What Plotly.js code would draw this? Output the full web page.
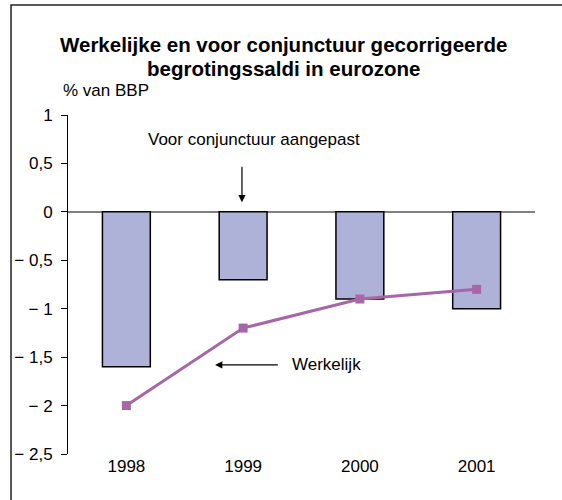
<!DOCTYPE html>
<html>
<head>
<meta charset="utf-8">
<script src="https://cdn.plot.ly/plotly-3.0.1.min.js"></script>
<style>
  body { margin: 0; background: #fff; }
  #plot { width: 562px; height: 500px; }
</style>
</head>
<body>
<div id="plot"></div>
<script>
// data
const years = ['1998', '1999', '2000', '2001']
const adjusted = [-1.6, -0.7, -0.9, -1.0]     // voor conjunctuur aangepast
const actual = [-2.0, -1.2, -0.9, -0.8]       // werkelijk
const yTicks = [1, 0.5, 0, -0.5, -1, -1.5, -2, -2.5]
const yTickText = ['1', '0,5', '0', '\u2212 0,5', '\u2212 1', '\u2212 1,5', '\u2212 2', '\u2212 2,5']
const titleLines = ['Werkelijke en voor conjunctuur gecorrigeerde', 'begrotingssaldi in eurozone']

const font = 'Liberation Sans, Arial, sans-serif'

const traces = [
    {
        x: years,
        y: adjusted,
        type: 'bar',
        width: 0.41,
        marker: { color: '#aeb1d8', line: { color: '#000', width: 1.5 } },
        hoverinfo: 'skip',
    },
    {
        x: years,
        y: actual,
        type: 'scatter',
        mode: 'lines+markers',
        line: { color: '#a865a8', width: 3 },
        marker: { symbol: 'square', size: 9, color: '#a865a8' },
        hoverinfo: 'skip',
    }
]

// title drawn as two annotations so the line spacing can match
const titleAnn = titleLines.map((t, i) => ({
    text: '<b>' + t + '</b>', xref: 'paper', yref: 'paper',
    x: 0.4604, y: [1.2065, 1.1386][i], xanchor: 'center', yanchor: 'middle',
    showarrow: false, font: { family: font, size: 20.5, color: '#000' },
}))

const layout = {
    width: 562,
    height: 500,
    margin: { l: 68, r: 27, t: 115, b: 46 },
    paper_bgcolor: '#fff',
    plot_bgcolor: '#fff',
    showlegend: false,
    font: { family: font, size: 17, color: '#000' },
    xaxis: {
        type: 'category',
        range: [-0.5, 3.5],
        showline: false,
        showgrid: false,
        zeroline: false,
        ticks: '',
        tickfont: { family: font, size: 17 },
    },
    yaxis: {
        range: [-2.5, 1],
        tickvals: yTicks,
        ticktext: yTickText,
        showline: true,
        linecolor: '#000',
        linewidth: 1,
        ticks: 'outside',
        ticklen: 6,
        tickcolor: '#000',
        ticklabelstandoff: 5,
        showgrid: false,
        zeroline: true,
        zerolinecolor: '#808080',
        zerolinewidth: 1.5,
        tickfont: { family: font, size: 17 },
    },
    annotations: titleAnn.concat([
        {
            text: '% van BBP', xref: 'paper', yref: 'paper',
            x: -0.015, y: 1.073, xanchor: 'left', yanchor: 'middle',
            showarrow: false, font: { size: 17 },
        },
        {
            text: 'Voor conjunctuur aangepast', xref: 'x', yref: 'y',
            x: 1.09, y: 0.75, xanchor: 'center', yanchor: 'middle',
            showarrow: false, font: { size: 17 },
        },
        {
            text: '', xref: 'x', yref: 'y', axref: 'x', ayref: 'y',
            x: 0.99, y: 0.1, ax: 0.99, ay: 0.48,
            showarrow: true, arrowhead: 2, arrowsize: 1.2, arrowwidth: 1.2, arrowcolor: '#000',
        },
        {
            text: 'Werkelijk', xref: 'x', yref: 'y',
            x: 1.40, y: -1.58, xanchor: 'left', yanchor: 'middle',
            showarrow: false, font: { size: 17 },
        },
        {
            text: '', xref: 'x', yref: 'y', axref: 'x', ayref: 'y',
            x: 0.76, y: -1.58, ax: 1.31, ay: -1.58,
            showarrow: true, arrowhead: 2, arrowsize: 1.2, arrowwidth: 1.2, arrowcolor: '#000',
        },
    ]),
    shapes: [
        {
            type: 'rect', xref: 'paper', yref: 'paper',
            x0: -0.122, x1: 1.1, y0: -0.2, y1: 1.3245,
            line: { color: '#222', width: 1.5 },
        }
    ],
}

Plotly.newPlot('plot', traces, layout, { staticPlot: true })
</script>
</body>
</html>
